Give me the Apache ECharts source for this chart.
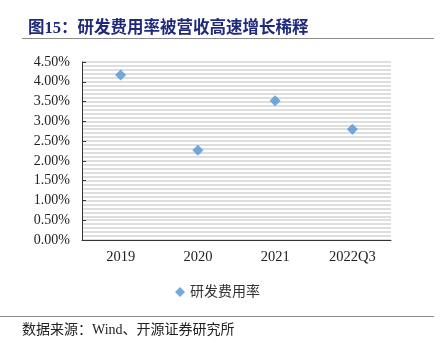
<!DOCTYPE html>
<html>
<head>
<meta charset="utf-8">
<script src="https://cdn.jsdelivr.net/npm/echarts@6/dist/echarts.min.js"></script>
<style>
  html, body { margin: 0; padding: 0; background: #fff; }
  #chart { width: 448px; height: 346px; }
</style>
</head>
<body>
<div id="chart"></div>
<script>
// R&D expense ratio by period (%)
const categories = ['2019', '2020', '2021', '2022Q3'];
const rdExpenseRatio = [4.17, 2.27, 3.52, 2.80];
const seriesName = '研发费用率';
const titleText = '图15：研发费用率被营收高速增长稀释';
const sourceText = '数据来源：Wind、开源证券研究所';

const chart = echarts.init(document.getElementById('chart'));
const serif = '"Liberation Serif", "Noto Sans CJK SC", serif';

chart.setOption({
  animation: false,
  backgroundColor: '#fff',
  title: {
    text: titleText,
    left: 23,
    top: 15,
    textStyle: { fontSize: 16.5, fontWeight: 'bold', color: '#1f2a7c', fontFamily: serif }
  },
  graphic: [
    { type: 'line', shape: { x1: 22, y1: 38.5, x2: 434, y2: 38.5 }, style: { stroke: '#8c8c8c', lineWidth: 1 } },
    { type: 'line', shape: { x1: 0, y1: 316.5, x2: 434, y2: 316.5 }, style: { stroke: '#8c8c8c', lineWidth: 1 } },
    { type: 'text', left: 22, top: 323, style: { text: sourceText, font: '14px ' + serif, fill: '#222' } }
  ],
  legend: {
    data: [seriesName],
    top: 280,
    left: 170,
    itemWidth: 10,
    itemHeight: 10,
    itemGap: 2,
    textStyle: { fontSize: 14, color: '#333', fontFamily: serif }
  },
  grid: { left: 82, right: 57, top: 62, bottom: 106 },
  xAxis: {
    type: 'category',
    data: categories,
    boundaryGap: true,
    axisLine: { lineStyle: { color: '#333', width: 1 } },
    axisTick: { inside: true, length: 4, lineStyle: { color: '#333' } },
    axisLabel: { fontSize: 14.5, color: '#222', fontFamily: serif, margin: 10 }
  },
  yAxis: {
    type: 'value',
    min: 0,
    max: 4.5,
    interval: 0.5,
    axisLine: { show: true, lineStyle: { color: '#333', width: 1 } },
    axisTick: { show: true, inside: true, length: 4, lineStyle: { color: '#333' } },
    axisLabel: {
      fontSize: 14, color: '#222', fontFamily: serif, margin: 12,
      formatter: v => v.toFixed(2) + '%'
    },
    splitLine: { show: true, lineStyle: { color: '#d4d4d4', width: 1.5 } },
    minorTick: { show: false, splitNumber: 5 },
    minorSplitLine: { show: true, lineStyle: { color: '#d4d4d4', width: 1.5 } }
  },
  series: [{
    name: seriesName,
    type: 'scatter',
    symbol: 'diamond',
    symbolSize: 11,
    itemStyle: { color: '#5094d4' },
    data: rdExpenseRatio
  }]
});
</script>
</body>
</html>
